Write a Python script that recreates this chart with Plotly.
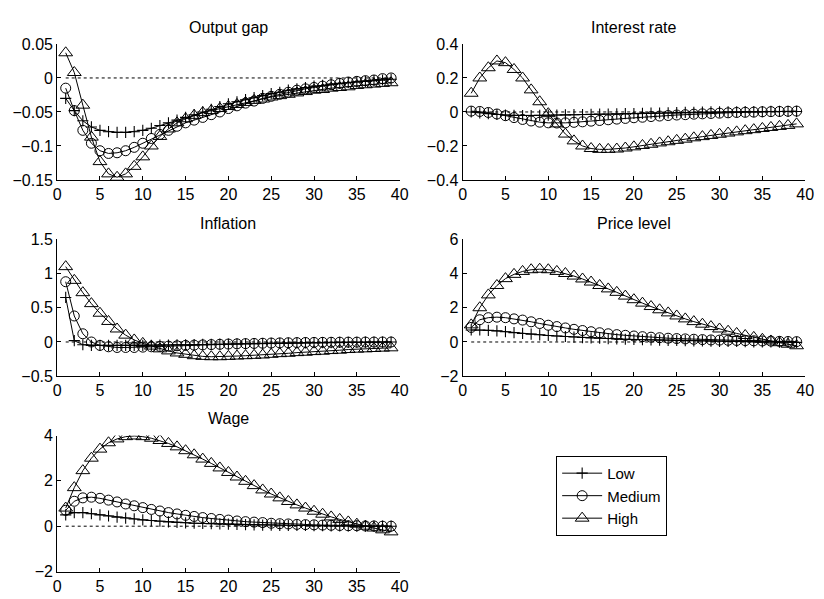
import plotly.graph_objects as go

t = list(range(1, 40))

# Output gap
og_low = [-0.03, -0.048, -0.063, -0.072, -0.077, -0.079, -0.08, -0.08, -0.079, -0.077, -0.074, -0.07, -0.066,
          -0.062, -0.058, -0.054, -0.05, -0.046, -0.042, -0.038, -0.035, -0.032, -0.029, -0.026, -0.023, -0.021,
          -0.018, -0.016, -0.014, -0.012, -0.011, -0.009, -0.008, -0.007, -0.006, -0.005, -0.004, -0.003, -0.002]
og_med = [-0.015, -0.048, -0.077, -0.096, -0.107, -0.111, -0.11, -0.107, -0.102, -0.096, -0.089, -0.083, -0.077,
          -0.071, -0.066, -0.062, -0.058, -0.054, -0.05, -0.045, -0.041, -0.037, -0.034, -0.03, -0.027, -0.024,
          -0.021, -0.018, -0.016, -0.014, -0.012, -0.01, -0.008, -0.006, -0.005, -0.004, -0.003, -0.001, 0.0]
og_high = [0.037, 0.008, -0.04, -0.087, -0.123, -0.141, -0.146, -0.141, -0.13, -0.116, -0.1, -0.086, -0.075,
           -0.066, -0.06, -0.055, -0.051, -0.048, -0.045, -0.042, -0.039, -0.036, -0.033, -0.031, -0.028, -0.026,
           -0.024, -0.022, -0.02, -0.018, -0.017, -0.015, -0.014, -0.013, -0.011, -0.01, -0.009, -0.008, -0.007]

# Interest rate
ir_low = [0.0, -0.005, -0.01, -0.015, -0.018, -0.02, -0.021, -0.021, -0.02, -0.019, -0.018, -0.017, -0.016,
          -0.015, -0.014, -0.013, -0.012, -0.011, -0.01, -0.009, -0.008, -0.007, -0.006, -0.005, -0.004, -0.003,
          -0.002, -0.001, 0.0, 0.0, 0.001, 0.001, 0.002, 0.002, 0.002, 0.003, 0.003, 0.003, 0.003]
ir_med = [0.005, 0.003, -0.003, -0.012, -0.022, -0.033, -0.044, -0.053, -0.06, -0.064, -0.065, -0.064, -0.061,
          -0.058, -0.054, -0.05, -0.046, -0.042, -0.038, -0.034, -0.031, -0.027, -0.024, -0.021, -0.018, -0.016,
          -0.013, -0.011, -0.009, -0.007, -0.005, -0.003, -0.002, -0.001, 0.001, 0.002, 0.003, 0.004, 0.005]
ir_high = [0.11, 0.2, 0.26, 0.3, 0.29, 0.25, 0.2, 0.13, 0.06, -0.01, -0.07, -0.13, -0.17, -0.2, -0.215, -0.22,
           -0.22, -0.218, -0.212, -0.205, -0.197, -0.19, -0.182, -0.175, -0.167, -0.16, -0.152, -0.145, -0.138,
           -0.131, -0.124, -0.117, -0.11, -0.104, -0.097, -0.091, -0.085, -0.079, -0.07]

# Inflation
inf_low = [0.65, 0.02, -0.04, -0.05, -0.05, -0.05, -0.05, -0.05, -0.05, -0.05, -0.048, -0.046, -0.044, -0.042,
           -0.04, -0.038, -0.036, -0.034, -0.032, -0.03, -0.028, -0.026, -0.024, -0.022, -0.02, -0.018, -0.016,
           -0.014, -0.012, -0.01, -0.009, -0.008, -0.006, -0.005, -0.004, -0.003, -0.002, -0.001, 0.0]
inf_med = [0.88, 0.38, 0.12, 0.0, -0.05, -0.07, -0.08, -0.08, -0.08, -0.075, -0.07, -0.065, -0.06, -0.055, -0.05,
           -0.046, -0.042, -0.038, -0.034, -0.03, -0.027, -0.024, -0.021, -0.018, -0.015, -0.013, -0.011, -0.009,
           -0.007, -0.006, -0.005, -0.004, -0.003, -0.002, -0.002, -0.001, -0.001, 0.0, 0.0]
inf_high = [1.1, 0.9, 0.72, 0.56, 0.42, 0.3, 0.19, 0.1, 0.03, -0.02, -0.06, -0.1, -0.13, -0.16, -0.18, -0.2,
            -0.21, -0.215, -0.215, -0.21, -0.205, -0.2, -0.195, -0.19, -0.18, -0.17, -0.165, -0.155, -0.15, -0.14,
            -0.135, -0.125, -0.12, -0.11, -0.105, -0.1, -0.095, -0.09, -0.085]

# Price level
pl_low = [0.7, 0.7, 0.68, 0.65, 0.6, 0.55, 0.5, 0.46, 0.42, 0.38, 0.35, 0.32, 0.29, 0.26, 0.24, 0.22, 0.2, 0.18,
          0.16, 0.15, 0.13, 0.12, 0.11, 0.1, 0.09, 0.08, 0.07, 0.06, 0.05, 0.04, 0.03, 0.03, 0.02, 0.01, 0.0,
          0.0, -0.01, -0.01, -0.02]
pl_med = [0.85, 1.3, 1.42, 1.45, 1.42, 1.35, 1.28, 1.18, 1.08, 0.98, 0.9, 0.82, 0.74, 0.67, 0.6, 0.54, 0.48, 0.43,
          0.39, 0.35, 0.31, 0.28, 0.25, 0.22, 0.2, 0.18, 0.16, 0.14, 0.12, 0.11, 0.1, 0.09, 0.08, 0.07, 0.06, 0.05,
          0.04, 0.03, 0.02]
pl_high = [1.0, 2.0, 2.75, 3.3, 3.7, 3.95, 4.12, 4.22, 4.25, 4.22, 4.12, 4.0, 3.85, 3.68, 3.5, 3.3, 3.1, 2.9, 2.68,
           2.47, 2.27, 2.07, 1.88, 1.7, 1.52, 1.35, 1.19, 1.04, 0.9, 0.76, 0.63, 0.5, 0.38, 0.27, 0.16, 0.06,
           -0.04, -0.13, -0.22]

# Wage
w_low = [0.5, 0.6, 0.6, 0.55, 0.5, 0.45, 0.4, 0.36, 0.32, 0.28, 0.25, 0.22, 0.19, 0.17, 0.15, 0.13, 0.12, 0.11,
         0.1, 0.09, 0.08, 0.07, 0.06, 0.05, 0.05, 0.04, 0.04, 0.03, 0.03, 0.02, 0.02, 0.01, 0.01, 0.01, 0.0, 0.0,
         0.0, 0.0, 0.0]
w_med = [0.7, 1.1, 1.25, 1.28, 1.23, 1.15, 1.07, 0.98, 0.9, 0.82, 0.74, 0.67, 0.6, 0.54, 0.48, 0.43, 0.38, 0.34,
         0.3, 0.27, 0.23, 0.2, 0.18, 0.16, 0.13, 0.11, 0.1, 0.08, 0.07, 0.06, 0.05, 0.04, 0.03, 0.02, 0.02, 0.01,
         0.01, 0.0, 0.0]
w_high = [0.8, 1.7, 2.45, 3.0, 3.4, 3.68, 3.85, 3.95, 3.98, 3.95, 3.88, 3.78, 3.65, 3.5, 3.33, 3.15, 2.96, 2.77,
          2.57, 2.37, 2.17, 1.98, 1.79, 1.6, 1.42, 1.25, 1.09, 0.94, 0.8, 0.66, 0.53, 0.41, 0.3, 0.19, 0.09, 0.0,
          -0.08, -0.16, -0.25]

titles = ["Output gap", "Interest rate", "Inflation", "Price level", "Wage"]
panels = [
    (og_low, og_med, og_high, [-0.15, 0.05], [-0.15, -0.1, -0.05, 0, 0.05], ["−0.15", "−0.1", "−0.05", "0", "0.05"]),
    (ir_low, ir_med, ir_high, [-0.4, 0.4], [-0.4, -0.2, 0, 0.2, 0.4], ["−0.4", "−0.2", "0", "0.2", "0.4"]),
    (inf_low, inf_med, inf_high, [-0.5, 1.5], [-0.5, 0, 0.5, 1, 1.5], ["−0.5", "0", "0.5", "1", "1.5"]),
    (pl_low, pl_med, pl_high, [-2, 6], [-2, 0, 2, 4, 6], ["−2", "0", "2", "4", "6"]),
    (w_low, w_med, w_high, [-2, 4], [-2, 0, 2, 4], ["−2", "0", "2", "4"]),
]
series_names = ["Low", "Medium", "High"]
xticks = [0, 5, 10, 15, 20, 25, 30, 35, 40]

W, H = 824, 599
col_x = [(54, 402), (466, 814)]
row_y = [(37, 177), (238, 379), (440, 580)]
title_y = [20, 222, 423]

FONT = "Liberation Sans, Arial, Helvetica, sans-serif"
styles = [
    dict(symbol="cross-thin-open", size=8, line=dict(width=1.1, color="black")),
    dict(symbol="circle-open", size=10, line=dict(width=1, color="black")),
    dict(symbol="triangle-up-open", size=12, line=dict(width=1, color="black")),
]

fig = go.Figure()
layout = dict(
    width=W, height=H, margin=dict(l=0, r=0, t=0, b=0),
    paper_bgcolor="white", plot_bgcolor="white",
    font=dict(family=FONT, size=16, color="black"),
    showlegend=True,
    legend=dict(x=561 / W, y=1 - 461 / H, xanchor="left", yanchor="top",
                bordercolor="black", borderwidth=1, bgcolor="white",
                font=dict(size=15), tracegroupgap=0, itemwidth=40),
)
annotations = []
for i, (lo, me, hi, yr, yt, ytt) in enumerate(panels):
    r, c = divmod(i, 2)
    k = i + 1
    xa = "x" if k == 1 else f"x{k}"
    ya = "y" if k == 1 else f"y{k}"
    x0, x1 = col_x[c]
    y0, y1 = row_y[r]
    axis_common = dict(showline=True, linecolor="black", linewidth=1, ticks="inside", ticklen=4,
                       tickcolor="black", showgrid=False, zeroline=False, mirror=False,
                       tickfont=dict(size=16))
    layout[f"xaxis{'' if k == 1 else k}"] = dict(
        domain=[x0 / W, x1 / W], anchor=ya, range=[0, 40], tickvals=xticks,
        ticktext=[str(v) for v in xticks], **axis_common)
    layout[f"yaxis{'' if k == 1 else k}"] = dict(
        domain=[1 - y1 / H, 1 - y0 / H], anchor=xa, range=yr, tickvals=yt, ticktext=ytt, **axis_common)
    # dotted zero line
    fig.add_trace(go.Scatter(x=[t[0], t[-1]], y=[0, 0], mode="lines", xaxis=xa, yaxis=ya,
                             line=dict(color="black", width=1, dash="dot"), showlegend=False,
                             hoverinfo="skip"))
    for j, ser in enumerate([lo, me, hi]):
        fig.add_trace(go.Scatter(x=t, y=ser, mode="lines+markers", xaxis=xa, yaxis=ya,
                                 name=series_names[j], legendgroup=series_names[j],
                                 showlegend=(i == 0),
                                 line=dict(color="black", width=1), marker=dict(color="black", **styles[j])))
    annotations.append(dict(text=titles[i], x=(x0 + x1) / 2 / W, y=1 - title_y[r] / H, xref="paper",
                            yref="paper", xanchor="center", yanchor="middle", showarrow=False,
                            font=dict(size=16, family=FONT)))

layout["annotations"] = annotations
fig.update_layout(**layout)
fig.write_html("out.html")
